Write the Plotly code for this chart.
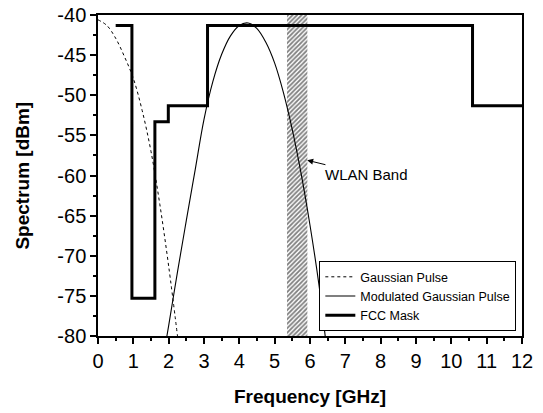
import plotly.graph_objects as go

# Gaussian pulse spectrum (dBm) vs frequency (GHz)
gauss_f = [0.0, 0.25, 0.5, 0.75, 1.0, 1.25, 1.5, 1.75, 2.0, 2.25]
gauss_db = [-40.6, -41.3, -42.9, -45.2, -47.9, -51.9, -57.0, -63.6, -71.3, -80.0]

# Modulated Gaussian pulse spectrum
mod_f = [1.95, 2.0, 2.25, 2.5, 2.75, 3.0, 3.25, 3.5, 3.75, 4.0, 4.25, 4.5,
         4.75, 5.0, 5.25, 5.5, 5.75, 6.0, 6.25, 6.43]
mod_db = [-80.0, -78.7, -72.0, -65.6, -59.3, -53.0, -48.3, -44.9, -42.6, -41.3,
          -41.0, -41.7, -43.4, -46.0, -49.7, -54.3, -59.8, -66.2, -73.5, -80.0]

# FCC indoor emission mask: band edges and level within each band
fcc_edges = [0.5, 0.96, 1.61, 1.99, 3.1, 10.6, 12.0]
fcc_levels = [-41.3, -75.3, -53.3, -51.3, -41.3, -51.3]

# WLAN band limits
wlan_band = [5.35, 5.925]

x_ticks = list(range(0, 13))
y_ticks = [-40, -45, -50, -55, -60, -65, -70, -75, -80]

font_family = "Liberation Sans, Arial, sans-serif"

fig = go.Figure()

# hatched WLAN band
fig.add_trace(go.Bar(
    x=[(wlan_band[0] + wlan_band[1]) / 2],
    y=[y_ticks[0] - y_ticks[-1]],
    base=[y_ticks[-1]],
    width=[wlan_band[1] - wlan_band[0]],
    marker=dict(color="white", line=dict(width=0),
                pattern=dict(shape="/", fgcolor="black", bgcolor="white",
                             size=3.2, solidity=0.55)),
    showlegend=False, hoverinfo="skip",
))

fig.add_trace(go.Scatter(
    x=gauss_f, y=gauss_db, mode="lines", name="Gaussian Pulse",
    line=dict(color="black", width=1, dash="dot", shape="spline"),
))
fig.add_trace(go.Scatter(
    x=mod_f, y=mod_db, mode="lines", name="Modulated Gaussian Pulse",
    line=dict(color="black", width=1.1, shape="spline"),
))
fig.add_trace(go.Scatter(
    x=fcc_edges, y=fcc_levels + [fcc_levels[-1]], mode="lines", name="FCC Mask",
    line=dict(color="black", width=3, shape="hv"),
))

fig.add_annotation(
    x=5.92, y=-58.1, ax=7.6, ay=-59.9, axref="x", ayref="y",
    text="WLAN Band", showarrow=True, arrowhead=2, arrowsize=1.2,
    arrowwidth=1, arrowcolor="black", standoff=0,
    font=dict(family=font_family, size=15, color="black"),
)

# axis titles
title_font = dict(family=font_family, size=19, color="black")
fig.add_annotation(
    x=0.5, y=-0.19, xref="paper", yref="paper", xanchor="center", yanchor="middle",
    text="<b>Frequency [GHz]</b>", showarrow=False, font=title_font,
)
fig.add_annotation(
    x=-0.179, y=0.5, xref="paper", yref="paper", xanchor="center", yanchor="middle",
    text="<b>Spectrum [dBm]</b>", textangle=-90, showarrow=False, font=title_font,
)

axis_common = dict(
    showgrid=False, zeroline=False, showline=True, linecolor="black",
    linewidth=1.5, mirror=True, ticks="outside", tickcolor="black",
    tickwidth=1.5, ticklen=6, automargin=False,
    tickfont=dict(family=font_family, size=20, color="black"),
)

fig.update_xaxes(
    range=[0, 12], tickvals=x_ticks, ticktext=[str(t) for t in x_ticks],
    minor=dict(dtick=0.5, ticks="outside", ticklen=3, tickcolor="black", tickwidth=1.5),
    **axis_common,
)
fig.update_yaxes(
    range=[-80, -40], tickvals=y_ticks, ticktext=[str(t) for t in y_ticks],
    minor=dict(dtick=2.5, ticks="outside", ticklen=3, tickcolor="black", tickwidth=1.5),
    **axis_common,
)

fig.update_layout(
    width=543, height=413,
    margin=dict(l=98, r=21, t=15, b=77),
    plot_bgcolor="white", paper_bgcolor="white",
    showlegend=True,
    legend=dict(
        x=0.522, y=0.015, xanchor="left", yanchor="bottom",
        bgcolor="white", bordercolor="black", borderwidth=1,
        font=dict(family=font_family, size=12.5, color="black"),
        tracegroupgap=0, itemwidth=30,
    ),
)

fig.write_html("out.html")
